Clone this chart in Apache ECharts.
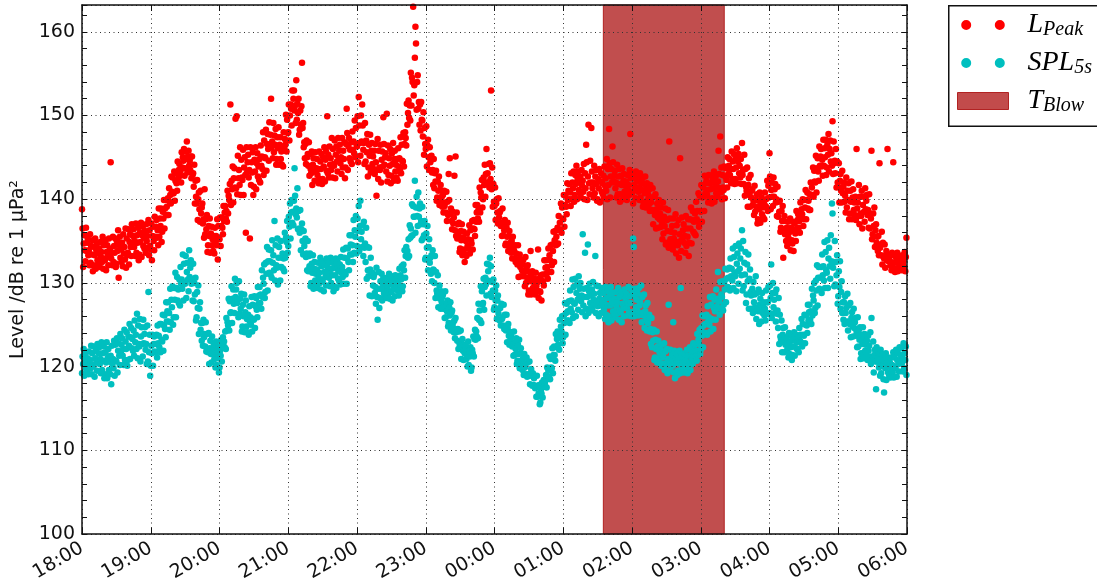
<!DOCTYPE html>
<html>
<head>
<meta charset="utf-8">
<script src="https://cdn.jsdelivr.net/npm/echarts@6/dist/echarts.min.js"></script>
<style>
  html, body { margin: 0; padding: 0; background: #fff; }
  #chart { width: 1097px; height: 585px; }
</style>
</head>
<body>
<div id="chart"></div>
<script>
// Hour tick labels along the time axis (18:00 evening to 06:00 next morning)
const hourLabels = ['18:00', '19:00', '20:00', '21:00', '22:00', '23:00', '00:00',
                    '01:00', '02:00', '03:00', '04:00', '05:00', '06:00'];

// Sampling step of the level series, in minutes after 18:00
const sampleStepMin = 0.5;

// SPL over 5 s windows, dB re 1 µPa², one value every 30 s from 18:00
const spl5s = [
  // 18:00
  119.2,121.2,120.3,122.1,118.9,120.9,121.6,119.8,120.5,119.4,121.0,119.1,121.8,120.2,120.8,119.8,122.5,119.1,121.6,120.2,120.0,122.4,118.8,121.0,121.9,120.5,119.5,122.7,120.8,121.6,
  122.3,120.3,120.9,119.2,122.9,119.6,121.6,120.7,122.4,118.6,119.1,121.7,120.5,122.9,118.6,121.1,122.1,119.6,120.6,119.1,121.3,117.9,122.5,120.3,120.9,119.8,123.1,118.9,122.6,120.7,
  120.6,123.4,119.3,121.9,122.8,121.3,120.2,123.9,121.6,122.6,123.4,121.3,122.1,120.2,124.4,120.8,123.0,122.1,124.1,120.1,120.8,123.6,122.5,125.1,120.9,123.5,124.6,122.2,123.3,121.9,
  124.3,121.3,125.5,122.9,123.8,122.1,126.3,121.0,124.9,122.7,122.4,125.7,120.6,123.6,124.7,122.7,121.2,125.6,122.8,123.9,124.7,122.0,122.7,120.3,124.9,120.6,128.9,121.7,123.8,118.9,
  // 19:00
  120.1,122.5,121.6,123.8,120.1,122.7,123.6,121.8,122.7,121.7,123.8,121.1,124.9,122.8,123.7,122.3,125.1,121.7,125.1,123.2,123.0,126.2,121.9,124.9,126.1,124.5,123.5,127.7,125.4,126.6,
  127.7,125.4,126.4,124.4,129.3,125.3,128.0,127.1,129.6,125.0,125.9,129.4,128.0,131.2,125.9,129.4,130.7,127.9,129.2,127.6,130.4,127.3,131.9,129.9,130.4,129.3,133.4,127.9,132.3,130.0,
  129.9,133.2,128.2,131.3,132.4,130.4,129.0,133.9,130.7,131.8,132.7,129.9,130.4,127.9,132.3,127.8,130.0,128.6,130.6,125.5,125.9,128.9,127.0,129.7,123.9,126.9,127.7,124.4,125.2,123.1,
  125.2,122.5,125.6,123.5,123.9,122.4,125.3,121.8,123.9,122.0,121.7,124.0,120.3,122.2,123.1,121.5,120.5,123.6,121.6,122.2,122.6,120.9,121.4,119.9,123.0,120.2,121.8,121.0,122.4,119.3,
  // 20:00
  119.9,121.9,121.3,123.2,120.6,122.6,123.5,122.4,123.0,122.3,124.2,122.1,125.8,124.3,125.3,124.9,128.1,124.3,127.8,126.4,126.5,129.6,125.2,128.1,129.2,127.5,126.4,130.5,128.3,129.2,
  130.0,127.6,128.1,125.9,130.2,126.3,128.1,126.9,128.7,124.2,124.8,127.4,126.0,128.6,124.1,126.5,127.9,124.8,125.7,124.1,126.2,123.8,127.2,125.4,125.9,125.0,128.3,124.2,127.4,125.7,
  125.6,128.4,124.6,127.2,128.2,126.8,125.9,129.5,127.5,128.5,129.5,127.6,128.6,126.9,131.5,128.3,130.6,129.9,132.2,128.2,128.9,132.4,131.1,134.3,129.1,132.6,134.0,131.2,132.6,131.0,
  133.9,130.6,135.1,132.4,133.3,131.5,137.4,130.3,134.5,132.1,131.8,135.3,129.8,133.0,134.3,131.9,130.3,135.0,131.9,133.0,133.5,131.7,132.9,131.4,136.0,133.0,135.4,134.9,137.4,133.6,
  // 21:00
  134.4,137.9,136.7,139.5,135.3,138.4,139.9,137.2,138.5,136.9,139.8,143.7,140.4,138.2,138.9,137.8,141.3,136.4,138.6,136.5,136.0,138.7,133.9,136.4,137.1,135.0,133.4,136.2,134.4,135.1,
  135.3,133.1,133.5,131.5,135.0,131.4,133.2,132.0,133.5,129.6,130.0,132.3,131.2,133.3,129.3,131.7,132.5,130.3,131.1,129.7,131.6,129.4,132.4,130.6,131.2,130.0,133.0,129.2,132.0,130.4,
  130.2,132.6,129.0,131.3,132.1,130.7,129.7,132.9,131.0,131.8,132.4,130.6,131.2,129.6,133.0,130.0,131.7,130.9,132.4,129.0,129.6,131.9,130.9,132.9,129.4,131.7,132.5,130.5,131.4,130.2,
  132.2,129.8,133.1,131.2,131.9,130.7,134.0,129.9,133.0,131.3,131.0,134.2,129.9,132.9,134.1,132.5,131.5,135.7,133.4,134.6,135.7,133.4,134.5,132.5,137.5,133.6,136.3,135.5,138.0,133.5,
  // 22:00
  134.4,137.7,136.2,139.2,133.8,136.8,139.8,135.2,136.1,134.3,136.9,133.2,137.3,134.2,134.7,132.5,136.6,130.5,134.3,131.5,130.8,134.2,128.5,131.6,133.0,130.9,128.4,131.2,129.7,130.7,
  131.0,128.8,129.5,127.5,131.8,128.3,125.6,129.3,131.3,127.0,128.2,130.2,129.3,131.1,127.9,129.9,130.6,128.8,129.5,128.4,130.0,128.2,130.6,129.2,129.7,128.7,131.1,128.1,130.3,129.0,
  128.9,130.8,127.9,129.7,130.3,129.2,128.4,130.9,129.3,130.0,130.6,129.1,129.8,128.5,131.7,129.2,130.9,130.4,132.0,129.0,129.6,132.2,131.5,133.9,130.6,133.2,134.3,133.7,133.8,133.0,
  135.2,133.2,136.9,135.4,136.5,135.6,139.4,135.7,139.2,137.9,137.9,142.2,136.0,139.0,140.3,138.0,136.8,140.8,137.9,138.9,139.5,137.0,137.4,135.1,139.1,135.3,137.0,135.7,137.4,132.8,
  // 23:00
  133.0,135.9,134.2,136.8,131.5,134.3,135.2,132.4,133.0,131.1,133.3,130.2,133.9,131.6,131.5,130.0,133.2,128.2,131.3,129.1,128.7,130.9,127.1,128.9,129.7,128.1,126.9,129.0,127.7,128.3,
  128.6,126.9,127.3,125.8,129.0,125.9,127.5,126.6,127.9,124.8,125.2,127.1,126.1,127.7,124.3,126.4,126.7,124.8,125.3,124.1,125.5,123.4,125.8,124.1,124.4,123.1,124.5,122.1,124.2,122.7,
  122.3,124.3,120.9,122.7,123.3,121.9,120.8,122.6,121.6,122.2,122.5,120.9,121.4,120.0,123.0,120.2,121.7,121.2,122.3,119.5,119.9,122.0,121.6,123.6,121.2,123.3,124.4,123.2,124.2,123.6,
  125.8,123.4,127.5,125.6,126.7,125.5,129.6,125.2,129.0,127.4,127.6,130.5,126.8,129.5,130.6,129.8,128.5,132.3,130.3,131.4,132.2,130.2,133.0,128.7,132.0,128.3,130.1,129.1,130.4,126.8,
  // 00:00
  127.1,129.1,127.9,129.7,125.7,127.9,128.5,126.3,126.9,125.5,127.0,124.9,127.5,125.7,125.9,124.9,127.4,124.5,126.2,124.6,124.3,126.2,122.9,124.6,125.1,123.7,122.6,124.1,123.2,123.7,
  124.1,122.4,122.8,121.3,124.2,121.4,122.9,122.1,123.4,120.3,120.7,122.6,121.5,123.2,119.8,121.6,122.2,120.2,120.8,119.6,121.0,119.0,121.5,119.9,120.3,119.1,121.1,118.8,120.5,119.1,
  118.9,120.6,117.9,119.2,119.7,118.9,117.7,119.2,117.8,118.6,118.9,117.4,117.7,116.4,118.9,116.4,117.6,116.8,117.8,115.5,115.7,117.2,116.8,118.1,116.3,117.7,118.4,117.6,118.1,117.6,
  119.0,117.5,119.9,118.8,119.5,118.8,121.2,118.5,120.9,119.9,119.8,122.2,119.2,121.4,122.4,121.4,120.7,123.9,122.3,123.3,124.2,122.6,123.4,122.0,125.6,123.8,124.8,124.2,126.0,122.8,
  // 01:00
  123.5,126.1,125.2,127.6,123.8,126.4,127.5,125.5,126.6,125.5,127.8,125.2,129.1,126.9,127.9,126.5,130.4,125.8,129.5,127.6,127.5,130.5,126.0,128.8,129.8,128.0,126.8,130.8,128.3,129.3,
  130.0,127.8,128.5,126.5,135.8,127.3,129.3,128.3,133.6,126.0,126.9,129.4,128.3,134.6,126.4,129.0,129.9,127.6,128.5,127.1,129.2,126.7,130.1,128.0,128.7,127.4,133.2,126.4,129.7,127.8,
  127.2,129.6,126.0,128.1,128.8,127.3,126.4,129.4,127.4,128.0,128.8,126.8,127.5,125.7,129.5,126.2,128.2,127.3,129.0,125.3,126.0,128.4,127.3,129.5,125.5,127.9,128.8,126.6,127.5,126.2,
  128.1,125.9,128.9,127.1,127.7,126.4,129.4,125.6,128.3,126.7,126.5,128.9,125.3,127.5,128.4,127.0,126.0,129.2,127.3,128.1,128.7,127.0,127.6,126.1,129.5,126.5,128.4,127.6,129.3,126.0,
  // 02:00
  126.5,128.9,135.3,134.3,126.0,128.4,129.3,127.1,128.0,126.7,128.7,126.1,129.4,127.3,127.7,126.4,129.7,125.3,128.3,126.4,126.1,128.6,124.6,126.6,127.3,125.6,124.3,127.6,125.2,125.9,
  126.2,124.2,124.5,122.7,125.8,122.3,124.1,123.1,124.4,120.8,121.1,123.2,122.1,124.2,120.5,122.4,123.1,121.0,121.7,120.4,122.0,120.1,122.6,121.1,121.3,120.3,122.8,119.6,121.8,120.4,
  120.2,122.1,119.2,120.9,127.4,120.4,119.5,122.0,120.4,121.0,121.4,120.1,125.3,119.3,121.9,118.6,121.0,120.4,121.6,119.0,119.5,121.1,120.4,121.9,119.2,129.4,121.4,119.9,120.5,119.6,
  121.0,119.3,121.6,120.2,120.7,119.8,122.0,119.2,121.3,120.1,120.4,122.3,119.6,121.3,121.9,120.9,120.3,122.8,121.3,122.0,122.6,121.2,121.9,120.7,123.9,121.4,123.2,122.7,124.4,121.5,
  // 03:00
  122.0,124.6,123.7,126.1,122.3,124.9,126.0,124.0,125.1,124.0,126.2,123.8,127.2,125.4,125.9,125.0,128.3,124.2,127.4,125.7,125.6,128.4,124.5,127.0,128.0,126.6,125.6,129.2,127.2,128.1,
  131.3,127.0,127.8,126.2,130.1,126.9,128.6,128.3,130.2,126.7,127.4,130.1,129.2,131.7,127.7,130.5,131.6,129.5,130.6,129.4,131.8,129.1,132.9,130.8,131.7,130.3,134.1,129.4,133.1,131.2,
  130.8,134.4,129.0,132.3,133.5,131.4,129.9,134.7,131.7,132.9,134.1,130.9,136.3,129.1,135.0,129.6,132.4,131.0,133.7,127.6,128.6,132.2,130.2,133.4,126.9,130.5,131.6,128.9,128.5,126.9,
  129.3,126.4,130.1,127.7,128.6,127.1,130.8,125.7,128.8,126.9,126.6,129.2,125.1,127.4,128.1,126.6,125.4,128.8,126.4,127.2,127.7,126.1,126.9,125.5,129.1,126.3,127.7,127.7,129.5,126.3,
  // 04:00
  126.4,129.7,128.2,132.2,125.8,128.8,130.0,127.1,128.0,126.4,128.8,125.4,129.2,126.3,126.7,124.6,128.2,122.7,126.2,123.6,123.2,125.5,121.7,123.8,124.6,122.9,121.7,124.7,122.6,123.3,
  123.5,122.0,122.5,121.1,124.0,121.5,123.0,122.3,123.7,120.8,121.4,123.2,122.4,124.1,121.3,123.1,123.8,122.2,122.9,122.0,123.5,121.7,124.6,123.1,123.8,122.9,125.7,122.4,125.1,123.8,
  123.7,126.2,122.8,125.0,126.1,124.9,124.0,127.4,125.5,126.5,127.4,125.6,126.6,125.1,129.3,126.1,128.5,127.9,130.0,126.4,127.0,130.3,129.1,132.1,127.3,130.6,131.9,129.3,130.6,129.1,
  131.9,128.8,133.4,130.9,132.0,130.3,134.9,129.4,133.7,131.5,131.2,135.1,129.4,132.9,134.2,132.0,130.5,135.7,132.6,139.5,138.3,131.8,132.5,129.6,135.0,129.8,132.5,130.9,133.3,127.5,
  // 05:00
  128.4,131.4,129.5,132.6,126.9,128.9,130.2,126.4,127.7,125.6,127.7,125.1,128.4,126.4,127.0,125.4,128.7,124.3,127.3,125.4,125.1,127.6,123.5,125.8,126.5,124.8,123.6,126.9,124.6,125.3,
  125.8,123.7,124.2,122.3,125.9,122.4,124.4,123.2,124.7,120.9,121.6,123.8,122.7,124.7,121.0,123.2,123.9,121.9,122.6,121.4,123.1,120.8,123.7,121.9,122.5,121.2,124.1,120.3,125.8,120.9,
  120.7,123.0,119.3,121.4,122.0,120.6,117.3,122.3,120.6,121.1,121.6,119.9,120.4,118.9,122.0,119.2,120.8,120.1,121.4,118.5,116.9,120.7,119.8,121.6,118.4,120.4,121.1,119.3,120.0,118.9,
  120.5,118.7,121.1,119.7,120.2,119.3,121.7,118.7,121.1,120.0,119.8,122.0,118.8,120.8,121.6,120.3,119.4,122.3,120.7,121.4,122.2,120.4,121.0,119.4,122.8,119.8,121.6,120.8,122.4,119.0
];

// Peak level, dB re 1 µPa, one value every 30 s from 18:00
const lPeak = [
  // 18:00
  138.8,136.5,131.9,134.7,135.7,133.9,132.6,136.6,133.8,134.8,135.3,133.3,133.9,132.1,135.8,132.4,134.4,133.4,135.1,131.4,132.1,134.3,133.3,135.3,131.7,133.9,134.7,132.7,133.5,132.3,
  134.1,131.9,134.9,133.1,133.7,132.5,135.5,131.7,134.5,132.9,132.7,135.1,131.5,133.7,134.5,133.1,132.1,135.3,133.3,134.1,144.4,132.9,133.6,132.1,135.5,132.5,134.4,133.6,135.3,131.9,
  132.3,135.0,133.8,136.3,130.6,134.5,135.5,133.0,134.0,132.5,134.8,132.0,135.8,133.5,134.3,132.8,136.5,131.8,135.3,133.3,133.6,136.4,132.2,134.9,135.8,134.3,133.2,137.0,134.7,135.6,
  136.4,134.3,135.0,133.2,137.1,133.6,135.7,134.8,136.6,132.7,133.4,136.0,134.9,137.2,133.1,135.7,136.7,134.4,135.4,134.1,136.2,133.6,137.0,135.0,135.6,134.2,137.5,133.3,136.3,134.4,
  // 19:00
  134.0,137.1,132.7,135.6,136.7,135.0,133.9,137.9,135.5,136.7,137.5,135.4,136.3,134.5,138.9,135.5,137.7,136.8,138.9,134.9,136.1,138.5,137.7,139.9,136.5,138.9,139.9,138.1,139.1,138.1,
  140.1,138.1,141.3,139.7,140.5,139.5,142.7,140.9,142.6,140.7,140.7,143.3,139.8,142.2,143.1,141.9,141.0,144.5,142.5,143.5,144.2,142.8,143.4,142.0,145.6,143.8,145.0,144.6,146.0,142.8,
  143.7,145.7,144.8,146.9,143.2,145.1,145.8,144.0,144.6,143.5,145.1,142.5,145.1,142.9,143.1,141.5,144.1,139.5,142.2,140.3,139.5,142.3,137.5,140.0,140.8,138.8,137.3,141.0,138.3,139.0,
  139.5,137.1,137.6,135.4,141.2,135.8,137.6,136.4,138.1,133.7,134.5,136.8,135.6,137.7,133.6,135.9,136.7,134.5,135.2,133.8,135.6,133.5,136.6,134.9,135.6,134.5,137.6,132.8,136.8,135.3,
  // 20:00
  135.2,137.8,134.4,136.8,137.8,136.6,135.8,139.2,137.4,138.4,139.2,137.7,138.6,137.3,141.0,138.3,140.4,139.9,141.8,151.3,139.3,142.2,141.2,143.9,139.6,142.5,143.7,141.4,149.6,141.3,
  149.9,140.6,145.2,142.5,143.5,141.7,146.2,140.5,144.7,142.6,142.3,145.9,140.5,143.8,145.0,142.9,136.0,146.2,143.2,144.4,145.3,142.6,143.5,135.3,146.2,141.7,144.4,143.2,145.6,140.5,
  141.5,144.7,143.3,146.2,141.2,144.3,145.5,142.7,143.9,142.3,144.8,142.0,146.4,144.0,145.1,143.6,148.0,142.9,147.0,145.0,144.9,148.3,143.4,146.6,147.8,146.0,144.6,149.2,146.5,147.7,
  152.0,146.2,146.9,144.9,149.1,145.6,147.6,146.5,148.4,144.1,144.8,147.4,146.1,148.6,144.1,146.5,147.4,144.8,145.7,144.1,146.3,143.9,148.0,146.1,147.2,146.5,150.1,145.7,149.5,147.9,
  // 21:00
  148.0,151.3,147.0,150.0,151.3,150.8,148.8,153.0,150.8,152.0,153.0,150.6,151.2,149.1,154.2,149.5,151.4,150.3,152.0,147.7,148.3,150.6,148.9,151.1,156.3,148.5,149.1,146.2,146.8,144.9,
  146.6,144.2,147.0,145.0,145.4,144.0,146.8,142.8,145.4,143.6,143.1,145.7,141.7,144.1,144.9,143.3,142.2,145.6,143.3,143.7,144.8,142.9,143.6,141.9,145.7,142.4,144.5,143.6,145.4,141.8,
  142.4,145.0,143.9,146.2,142.1,144.7,145.7,143.4,149.9,143.1,145.3,142.6,146.3,144.1,144.9,143.5,147.3,142.6,146.0,144.2,144.0,147.0,142.5,145.3,146.3,144.5,143.3,147.3,144.8,145.8,
  146.5,144.3,145.0,143.0,147.3,143.8,145.8,144.8,146.8,142.5,143.8,146.6,150.8,147.9,143.5,146.3,147.3,144.9,145.9,144.5,146.8,144.2,148.1,145.9,146.9,145.5,149.4,145.0,148.5,146.6,
  // 22:00
  146.3,149.9,144.4,152.2,148.8,146.7,145.2,150.0,146.9,151.3,148.8,145.9,146.7,144.2,149.1,144.5,147.0,145.6,147.8,142.7,143.8,146.5,145.2,147.7,143.2,145.8,146.7,144.2,145.1,143.6,
  145.8,143.0,146.6,144.4,140.4,143.5,147.2,142.4,145.8,143.8,143.5,146.5,142.0,144.7,145.7,143.9,149.8,146.6,144.1,145.0,145.5,143.3,150.2,142.1,146.4,142.9,144.9,144.0,146.0,141.9,
  142.8,145.5,144.2,146.7,142.2,144.8,145.8,143.3,144.1,142.6,144.8,142.2,146.1,143.9,144.9,143.5,147.4,143.1,146.5,144.6,144.5,147.9,143.9,146.6,148.0,147.3,146.4,151.4,148.9,150.3,
  151.8,149.7,151.2,149.4,155.1,151.2,154.5,154.0,163.0,152.4,153.6,156.9,160.6,158.6,150.7,154.0,154.8,150.8,151.6,148.9,151.3,148.2,151.6,149.5,149.4,147.5,150.4,145.3,148.5,146.6,
  // 23:00
  146.0,148.7,143.9,146.4,147.1,145.0,143.5,146.2,144.4,145.1,145.2,143.2,143.5,141.7,144.8,141.3,143.1,142.1,143.4,139.8,140.2,142.1,141.0,142.7,139.3,141.1,141.7,139.7,140.3,139.1,
  140.5,138.4,141.0,139.2,139.6,138.4,140.9,137.4,139.7,138.1,143.0,139.9,144.9,138.3,138.9,137.4,136.4,138.5,137.1,137.8,142.8,136.3,145.1,135.6,138.4,135.3,137.0,135.8,137.2,133.7,
  134.1,136.2,135.1,137.0,133.3,135.4,136.1,134.0,132.5,133.4,135.0,133.2,135.9,134.4,135.2,134.1,136.9,133.5,136.3,135.1,134.7,137.4,134.0,136.5,137.5,136.4,135.6,139.3,137.3,138.4,
  139.3,137.7,138.7,137.3,141.4,138.4,140.8,140.2,142.3,139.0,140.0,142.6,141.7,144.1,140.3,143.0,146.0,142.0,143.1,142.0,144.2,141.4,144.3,142.4,153.0,141.2,143.8,139.1,141.8,139.7,
  // 00:00
  139.2,141.4,137.5,139.5,140.0,138.4,137.1,140.1,137.8,138.4,138.6,136.8,137.2,135.6,138.9,135.7,137.1,136.3,137.5,134.5,134.7,136.6,135.5,137.2,133.8,135.6,136.2,134.2,134.8,133.6,
  135.0,132.9,135.5,133.7,133.9,132.9,134.5,132.5,133.5,132.6,132.2,134.5,130.7,132.8,133.4,131.9,130.8,132.8,131.5,132.2,132.7,130.8,131.3,129.6,133.1,130.0,131.7,130.6,132.1,128.6,
  129.1,131.3,130.2,133.8,128.6,130.7,131.4,129.4,130.1,128.8,130.5,128.6,131.2,129.6,130.0,129.0,134.0,128.2,130.5,129.0,128.9,130.9,127.9,130.2,131.0,130.2,129.7,132.7,131.0,131.8,
  132.7,131.1,131.9,130.5,134.1,131.3,133.3,132.7,134.5,131.3,132.1,134.6,133.8,136.1,132.5,135.1,136.2,134.5,135.5,134.6,136.6,134.7,138.0,136.4,137.2,136.3,139.5,136.0,139.0,137.7,
  // 01:00
  137.6,140.5,136.7,139.3,140.4,139.1,138.2,141.9,139.9,141.0,141.8,140.0,140.8,139.2,143.1,140.0,142.0,141.3,143.3,139.7,140.5,142.9,141.8,144.0,140.0,142.4,143.3,141.1,142.0,140.7,
  142.7,140.2,143.5,141.6,142.2,140.9,144.2,140.0,143.1,141.3,146.5,144.4,139.9,142.7,148.9,141.9,140.6,144.6,142.0,148.5,143.3,141.3,142.0,140.2,144.0,140.7,142.7,141.8,143.5,139.8,
  140.0,142.4,141.3,143.6,139.6,142.1,143.1,140.9,141.9,140.6,142.8,140.1,143.9,141.6,142.5,141.0,144.8,140.0,143.6,141.7,148.4,144.3,140.2,142.7,143.6,142.0,146.3,144.4,142.1,142.8,
  143.4,141.3,142.0,140.2,144.1,140.6,142.7,141.8,143.6,139.7,140.6,142.8,141.7,143.7,140.0,142.2,143.0,140.9,141.6,140.3,142.1,139.9,142.9,141.1,141.7,140.5,143.5,147.8,142.5,140.9,
  // 02:00
  140.7,143.1,139.5,141.7,142.5,141.1,140.1,143.3,141.3,142.1,142.7,140.9,141.4,139.9,143.1,140.2,142.0,141.1,142.5,139.1,139.6,141.8,140.7,142.7,139.0,141.2,141.9,139.9,140.6,139.3,
  141.2,138.6,141.7,139.6,140.1,138.7,141.3,137.0,140.3,138.5,138.1,140.6,136.5,138.8,139.5,137.8,136.6,139.9,137.6,138.3,139.0,136.7,137.3,135.2,139.6,135.9,137.9,136.8,138.9,134.6,
  134.8,137.5,136.2,138.7,134.2,146.9,137.7,135.2,136.1,134.7,136.8,134.0,137.7,135.3,136.0,134.5,138.2,133.5,136.9,134.9,134.5,137.5,133.0,135.8,144.9,135.0,133.8,137.8,135.3,136.3,
  137.0,134.8,135.6,133.6,138.0,134.4,136.5,135.5,137.6,133.2,134.8,137.6,136.5,139.0,134.7,137.5,138.6,136.1,137.3,135.9,138.3,135.7,139.7,137.6,138.6,137.3,140.7,136.7,140.4,138.6,
  // 03:00
  138.5,141.7,137.3,140.2,141.4,140.3,138.6,142.8,140.7,141.9,142.2,140.5,141.1,139.6,142.9,139.9,141.9,141.2,142.8,139.5,140.1,142.3,141.3,143.3,139.7,141.9,142.7,140.7,141.5,140.3,
  142.1,145.8,143.0,141.3,147.5,140.8,143.8,140.0,142.9,141.4,141.1,143.9,140.1,142.7,143.7,142.3,141.4,145.0,143.0,144.0,144.8,142.9,143.6,141.9,145.7,142.4,144.5,143.6,145.4,141.8,
  142.4,144.9,143.8,146.1,141.9,144.5,145.4,143.1,144.0,142.6,144.8,141.8,146.7,142.9,143.5,141.8,145.3,140.4,143.6,141.5,141.0,143.8,139.1,141.7,142.5,140.5,139.1,142.9,140.2,141.0,
  141.2,139.3,139.8,138.1,141.6,138.5,140.0,139.1,140.6,137.1,137.6,139.8,138.8,140.8,137.2,139.4,140.2,138.2,139.0,137.8,139.6,137.6,140.8,139.2,140.0,139.0,142.2,138.6,141.6,140.2,
  // 04:00
  145.5,142.7,138.8,141.1,142.0,140.3,139.2,142.6,140.3,141.2,141.8,139.6,140.0,138.0,141.5,137.9,139.7,138.5,139.8,136.1,136.6,138.6,137.4,139.2,133.0,137.4,138.0,135.8,136.4,135.0,
  136.6,134.4,137.3,135.4,136.0,134.8,137.7,133.9,136.6,135.1,134.7,137.3,133.8,136.2,137.1,135.9,135.0,138.6,136.5,137.5,138.2,136.6,137.4,136.0,139.6,137.8,138.8,138.2,140.0,136.8,
  137.6,139.9,139.0,141.1,137.6,139.9,140.8,138.9,139.8,138.7,140.6,138.7,142.0,140.5,141.4,140.5,143.8,140.3,143.4,142.1,142.0,145.2,140.8,143.7,144.9,143.3,142.2,146.3,144.0,145.1,
  146.0,143.9,144.7,142.8,147.1,144.0,146.1,145.0,147.1,142.9,143.8,146.5,145.3,147.8,143.3,146.0,147.0,144.5,145.5,144.0,149.3,143.0,146.9,144.3,144.6,143.1,146.0,141.4,144.5,142.0,
  // 05:00
  141.5,144.3,139.6,142.2,143.0,141.0,139.6,143.4,140.7,141.5,142.0,139.7,140.4,138.4,142.6,139.0,141.0,139.9,141.9,137.6,138.3,141.0,139.7,142.1,137.6,140.2,141.2,138.7,139.6,138.1,
  140.3,137.5,146.0,138.9,139.6,138.0,141.7,137.0,140.3,138.3,138.0,141.0,136.5,139.3,140.3,138.5,137.3,141.3,138.8,139.8,140.5,138.1,138.7,136.6,140.6,136.5,138.3,137.7,145.8,135.2,
  135.8,138.3,136.8,139.0,134.3,136.3,137.0,134.8,135.5,133.8,135.6,133.3,144.3,134.2,134.6,133.3,136.1,132.2,134.8,133.1,132.9,134.6,131.8,133.3,133.8,132.7,146.0,133.2,132.6,133.0,
  133.2,132.1,132.5,131.5,133.6,131.8,144.4,132.4,133.3,131.3,131.7,133.0,132.4,133.6,131.4,132.7,133.2,132.0,132.5,131.8,132.9,131.5,133.3,132.3,132.6,131.9,133.7,131.4,133.1,135.4
];

// Blow-out period, minutes after 18:00 (about 01:35 to 03:20)
const blowWindow = [455, 560.5];

// Legend texts: italic symbol plus subscript
const legendText = {
  L_Peak: ['L', 'Peak'],
  SPL_5s: ['SPL', '5s'],
  T_Blow: ['T', 'Blow']
};

const toPoints = (arr) => arr.map((v, i) => [i * sampleStepMin, v]);

const BAND_COLOR = 'rgba(178,34,34,0.8)';
const BAND_SWATCH = '#c24b4b';
const RED = '#ff0000';
const CYAN = '#00bfbf';
const INK = '#111';
// two round markers side by side, framed in a 51x17 box
const TWO_DOTS = 'path://M0,0M51,17M3.7,8.5a5,5 0 1,0 10,0a5,5 0 1,0 -10,0zM37.3,8.5a5,5 0 1,0 10,0a5,5 0 1,0 -10,0z';

const tickFont = { fontFamily: 'DejaVu Sans', fontSize: 19, color: INK };
const frameLine = { show: true, onZero: false, lineStyle: { color: INK, width: 1.5 } };
const gridDots = { show: true, lineStyle: { color: '#333', width: 1, type: [1, 3.5] } };

const chart = echarts.init(document.getElementById('chart'), null, { renderer: 'canvas' });

chart.setOption({
  animation: false,
  backgroundColor: '#fff',
  grid: { left: 82, right: 190, top: 5, bottom: 51, containLabel: false, outerBoundsMode: 'none' },
  // legend frame, running past the right edge of the canvas
  graphic: [{
    type: 'rect', z: 3, silent: true,
    shape: { x: 948.75, y: 5.75, width: 200, height: 120.5 },
    style: { fill: '#fff', stroke: INK, lineWidth: 1.5 }
  }],
  xAxis: [
    {
      type: 'value', position: 'bottom', min: 0, max: 720, interval: 60, z: 10,
      axisLine: frameLine,
      axisTick: { show: true, inside: true, length: 6, lineStyle: { color: INK, width: 1 } },
      axisLabel: Object.assign({}, tickFont, {
        rotate: 30, margin: 13,
        formatter: (v) => hourLabels[Math.round(v / 60)] || ''
      }),
      splitLine: gridDots
    },
    {
      type: 'value', position: 'top', min: 0, max: 720, interval: 60, z: 10,
      axisLine: frameLine,
      axisTick: { show: true, inside: true, length: 6, lineStyle: { color: INK, width: 1 } },
      axisLabel: { show: false },
      splitLine: { show: false }
    }
  ],
  yAxis: [
    {
      type: 'value', position: 'left', min: 100, max: 163.2, interval: 10, z: 10,
      axisLine: frameLine,
      axisTick: { show: false },
      axisLabel: Object.assign({}, tickFont, {
        margin: 7,
        formatter: (v) => (Math.abs(v % 10) < 1e-6 ? String(v) : '')
      }),
      splitLine: gridDots,
      name: 'Level /dB re 1 µPa²',
      nameLocation: 'middle',
      nameGap: 53,
      nameTextStyle: { fontFamily: 'DejaVu Sans', fontSize: 19, color: INK }
    },
    {
      type: 'value', position: 'left', min: 100, max: 163.2, interval: 2, z: 10,
      axisLine: { show: false },
      axisTick: { show: true, inside: true, length: 5, lineStyle: { color: INK, width: 1 } },
      axisLabel: { show: false },
      splitLine: { show: false }
    },
    {
      type: 'value', position: 'right', min: 100, max: 163.2, interval: 2, z: 10,
      axisLine: frameLine,
      axisTick: { show: true, inside: true, length: 5, lineStyle: { color: INK, width: 1 } },
      axisLabel: { show: false },
      splitLine: { show: false }
    }
  ],
  legend: {
    orient: 'vertical',
    left: 948, top: 5, z: 4,
    padding: [6, 10, 9, 9],
    itemGap: 9,
    itemWidth: 51, itemHeight: 17,
    borderWidth: 0,
    backgroundColor: 'transparent',
    selectedMode: false,
    data: [
      { name: 'L_Peak', icon: TWO_DOTS },
      { name: 'SPL_5s', icon: TWO_DOTS },
      { name: 'T_Blow', icon: 'rect', itemStyle: { color: BAND_SWATCH, opacity: 1, borderColor: '#b22222', borderWidth: 1 } }
    ],
    formatter: (name) => '{m|' + legendText[name][0] + '}{s|' + legendText[name][1] + '}',
    textStyle: {
      color: '#000',
      rich: {
        m: { fontFamily: 'Liberation Serif', fontStyle: 'italic', fontSize: 28, lineHeight: 30, color: '#000', padding: [0, 0, 0, 14] },
        s: { fontFamily: 'Liberation Serif', fontStyle: 'italic', fontSize: 20, lineHeight: 12, verticalAlign: 'bottom', color: '#000' }
      }
    }
  },
  series: [
    {
      name: 'T_Blow', type: 'scatter', data: [], silent: true, z: 1,
      itemStyle: { color: BAND_SWATCH },
      markArea: {
        silent: true,
        itemStyle: { color: BAND_COLOR, borderColor: '#b22222', borderWidth: 1 },
        data: [[{ xAxis: blowWindow[0] }, { xAxis: blowWindow[1] }]]
      }
    },
    {
      name: 'L_Peak', type: 'scatter', data: toPoints(lPeak), z: 2,
      symbol: 'circle', symbolSize: 6.5, silent: true,
      itemStyle: { color: RED, opacity: 1 }
    },
    {
      name: 'SPL_5s', type: 'scatter', data: toPoints(spl5s), z: 3,
      symbol: 'circle', symbolSize: 6.5, silent: true,
      itemStyle: { color: CYAN, opacity: 1 }
    }
  ]
});
</script>
</body>
</html>
